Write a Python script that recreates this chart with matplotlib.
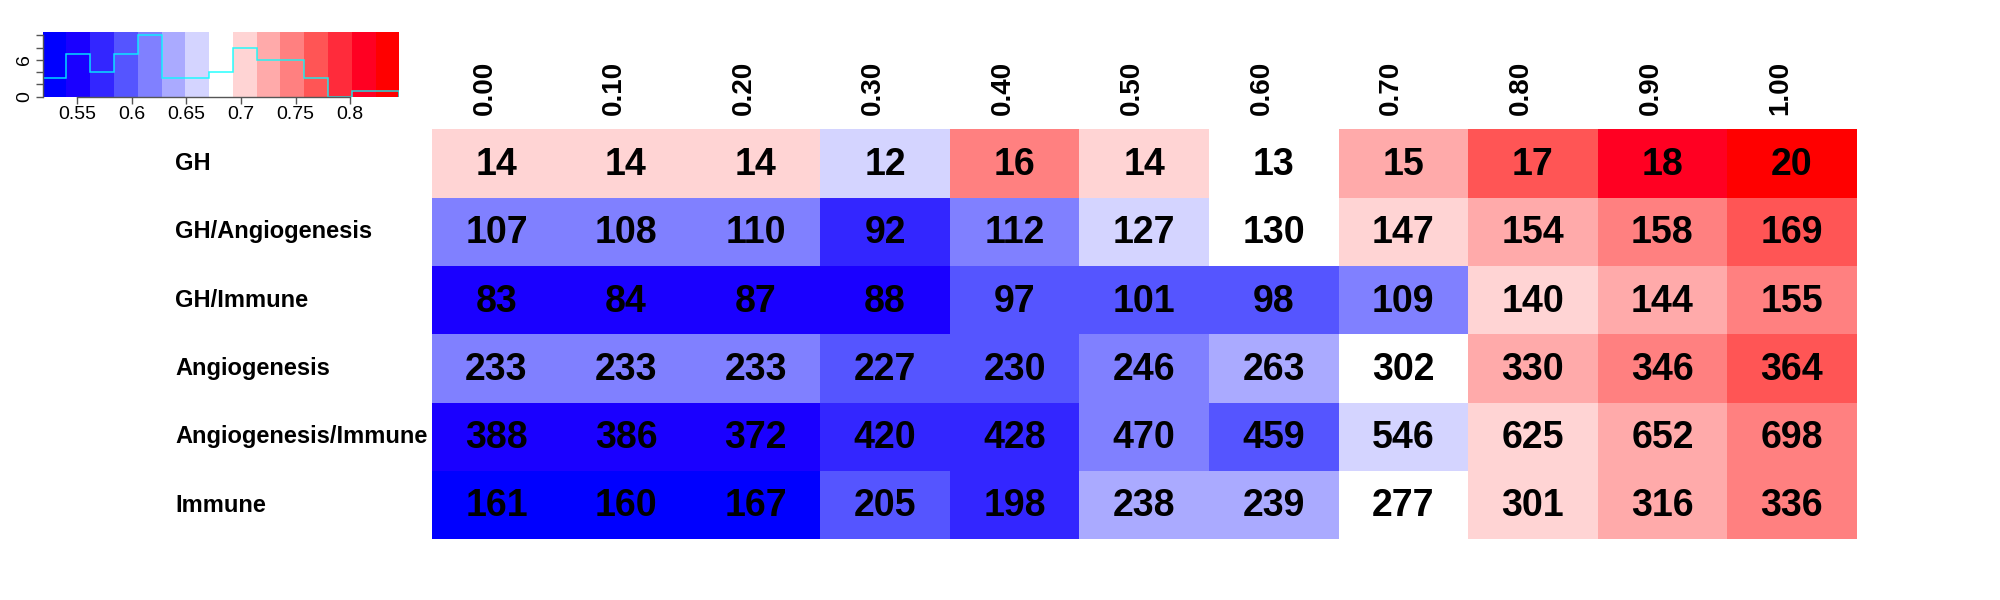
import numpy as np
import matplotlib
matplotlib.use("Agg")
import matplotlib.pyplot as plt
from matplotlib.colors import ListedColormap, BoundaryNorm
from matplotlib.transforms import offset_copy

plt.rcParams['font.family'] = ['Liberation Sans', 'DejaVu Sans']

# ---------------- data ----------------
row_labels = ["GH", "GH/Angiogenesis", "GH/Immune", "Angiogenesis",
              "Angiogenesis/Immune", "Immune"]
col_labels = ["0.00", "0.10", "0.20", "0.30", "0.40", "0.50",
              "0.60", "0.70", "0.80", "0.90", "1.00"]

counts = [
    [14, 14, 14, 12, 16, 14, 13, 15, 17, 18, 20],
    [107, 108, 110, 92, 112, 127, 130, 147, 154, 158, 169],
    [83, 84, 87, 88, 97, 101, 98, 109, 140, 144, 155],
    [233, 233, 233, 227, 230, 246, 263, 302, 330, 346, 364],
    [388, 386, 372, 420, 428, 470, 459, 546, 625, 652, 698],
    [161, 160, 167, 205, 198, 238, 239, 277, 301, 316, 336],
]

# colour-scale values (estimated from the cell colours / colour key)
scores = [
    [0.704, 0.704, 0.704, 0.661, 0.748, 0.704, 0.683, 0.726, 0.770, 0.813, 0.835],
    [0.617, 0.617, 0.617, 0.574, 0.617, 0.661, 0.683, 0.704, 0.726, 0.748, 0.770],
    [0.552, 0.552, 0.552, 0.552, 0.595, 0.595, 0.595, 0.617, 0.704, 0.726, 0.748],
    [0.617, 0.617, 0.617, 0.595, 0.595, 0.617, 0.639, 0.683, 0.726, 0.748, 0.770],
    [0.552, 0.552, 0.552, 0.574, 0.574, 0.617, 0.595, 0.661, 0.704, 0.726, 0.748],
    [0.530, 0.530, 0.530, 0.595, 0.574, 0.639, 0.639, 0.683, 0.704, 0.726, 0.748],
]

key_lo, key_hi = 0.5183, 0.8451
n_bins = 15
key_ticks = [0.55, 0.60, 0.65, 0.70, 0.75, 0.80]
key_tick_labels = ["0.55", "0.6", "0.65", "0.7", "0.75", "0.8"]

palette = ["#0000FF", "#1A00FF", "#3326FF", "#5555FF", "#8080FF", "#AAAAFF",
           "#D4D4FF", "#FFFFFF", "#FFD4D4", "#FFAAAA", "#FF8080", "#FF5555",
           "#FF2B3B", "#FF0022", "#FF0000"]

# ---------------- figure ----------------
W, H = 2000, 600
fig = plt.figure(figsize=(20, 6), dpi=100)

bounds = np.linspace(key_lo, key_hi, n_bins + 1)
cmap = ListedColormap(palette)
norm = BoundaryNorm(bounds, cmap.N)

S = np.array(scores)
C = np.array(counts)
nr, nc = S.shape

# heatmap
hx0, hx1, hy0, hy1 = 431.7, 1856.7, 129.3, 539.3
ax = fig.add_axes([hx0 / W, 1 - hy1 / H, (hx1 - hx0) / W, (hy1 - hy0) / H])
ax.pcolormesh(np.arange(nc + 1), np.arange(nr + 1), S, cmap=cmap, norm=norm)
ax.set_xlim(0, nc)
ax.set_ylim(nr, 0)
ax.set_axis_off()

for i in range(nr):
    for j in range(nc):
        ax.text(j + 0.5, i + 0.52, str(C[i, j]), ha='center', va='center',
                fontsize=27, fontweight='bold', color='black')

# row labels (positioned in figure pixels)
for i, lab in enumerate(row_labels):
    ypix = hy0 + (i + 0.5) * (hy1 - hy0) / nr
    fig.text(175 / W, 1 - ypix / H, lab, ha='left', va='center',
             fontsize=17, fontweight='bold')

# column labels
trans = offset_copy(ax.transData, fig=fig, x=-12, y=14, units='dots')
for j, lab in enumerate(col_labels):
    ax.text(j + 0.5, 0, lab, transform=trans, rotation=90,
            ha='center', va='bottom', fontsize=20, fontweight='bold')

# colour key
kx0, kx1, ky0, ky1 = 42.7, 399.3, 32.3, 96.7
kax = fig.add_axes([kx0 / W, 1 - ky1 / H, (kx1 - kx0) / W, (ky1 - ky0) / H])
kax.pcolormesh(bounds, [0, 10.5], np.array([(bounds[:-1] + bounds[1:]) / 2]),
               cmap=cmap, norm=norm)
hist, _ = np.histogram(S.ravel(), bins=bounds)
kax.stairs(hist, bounds, color='cyan', linewidth=1.1, alpha=0.85)
kax.set_xlim(key_lo, key_hi)
kax.set_ylim(0, 10.5)
for s in ['top', 'right']:
    kax.spines[s].set_visible(False)
kax.spines['left'].set_bounds(0, 10)
kax.spines['bottom'].set_bounds(key_ticks[0], key_ticks[-1])
for s in ['left', 'bottom']:
    kax.spines[s].set_color('#555555')
    kax.spines[s].set_linewidth(1.0)
kax.set_xticks(key_ticks)
kax.set_xticklabels(key_tick_labels, fontsize=14)
kax.set_yticks([0, 2, 4, 6, 8, 10])
kax.set_yticklabels(["0", "", "", "6", "", ""], fontsize=14, rotation=90,
                    va='center')
kax.tick_params(axis='both', length=5, width=1.0, color='#555555', pad=2)

fig.savefig("out.png", dpi=100, facecolor='white')
